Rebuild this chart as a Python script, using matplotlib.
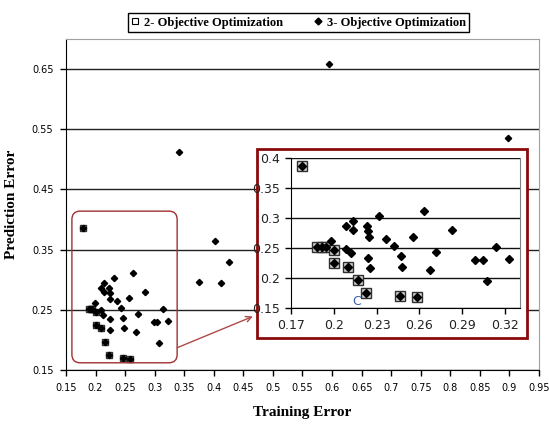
import matplotlib.pyplot as plt
from matplotlib.lines import Line2D
from matplotlib.patches import Rectangle, FancyBboxPatch

# 2-objective optimization (training error, prediction error)
x2 = [0.178, 0.1885, 0.1915, 0.1945, 0.2003, 0.2003, 0.2097, 0.2167, 0.2226, 0.2465, 0.2583]
y2 = [0.386, 0.251, 0.251, 0.251, 0.247, 0.225, 0.219, 0.197, 0.1746, 0.1706, 0.169]

# 3-objective optimization
x3 = [0.1984, 0.2085, 0.2085, 0.2137, 0.2137, 0.212, 0.223, 0.2237, 0.2244, 0.2237,
      0.2251, 0.232, 0.2369, 0.2425, 0.2472, 0.2479, 0.2559, 0.2632, 0.2677, 0.2719,
      0.2829, 0.2989, 0.3043, 0.3071, 0.3134, 0.3231,
      0.341, 0.375, 0.402, 0.412, 0.425, 0.594, 0.898]
y3 = [0.262, 0.286, 0.249, 0.295, 0.280, 0.241, 0.286, 0.278, 0.2676, 0.234,
      0.217, 0.3027, 0.2654, 0.2525, 0.236, 0.219, 0.269, 0.311, 0.2136, 0.243,
      0.280, 0.2303, 0.2303, 0.195, 0.251, 0.232,
      0.513, 0.297, 0.364, 0.294, 0.33, 0.658, 0.536]

main_xticks = [0.15, 0.2, 0.25, 0.3, 0.35, 0.4, 0.45, 0.5, 0.55, 0.6, 0.65, 0.7,
               0.75, 0.8, 0.85, 0.9, 0.95]
main_yticks = [0.15, 0.25, 0.35, 0.45, 0.55, 0.65]
inset_xticks = [0.17, 0.2, 0.23, 0.26, 0.29, 0.32]
inset_yticks = [0.15, 0.2, 0.25, 0.3, 0.35, 0.4]

serif = 'Liberation Serif'
dark_red = '#8b0a0a'


def draw_points(ax, ms_sq, ms_di):
    ax.plot(x2, y2, 's', ms=ms_sq, mfc='#d0d0d0', mec='#303030', mew=1, zorder=3)
    ax.plot(x3 + x2, y3 + y2, 'D', ms=ms_di, color='black', mec='black', zorder=4)


fig = plt.figure(figsize=(5.49, 4.25), dpi=100)

# main axes
ax = fig.add_axes([0.1202, 0.1294, 0.8616, 0.7788])
draw_points(ax, 5, 3.2)
ax.set_xlim(0.15, 0.95)
ax.set_ylim(0.15, 0.70)
ax.set_xticks(main_xticks)
ax.set_xticklabels(['%g' % v for v in main_xticks])
ax.set_yticks(main_yticks)
ax.set_yticklabels(['%g' % v for v in main_yticks])
ax.grid(True, axis='y', color='#222222', lw=1)
ax.set_axisbelow(True)
ax.tick_params(direction='out', length=4, width=1, labelsize=7, pad=5)
for lab in ax.get_xticklabels() + ax.get_yticklabels():
    lab.set_fontfamily('DejaVu Sans')
for s in ['top', 'right']:
    ax.spines[s].set_color('#a0a0a0')
ax.set_xlabel('Training Error', fontfamily=serif, fontweight='bold', fontsize=11, labelpad=10)
ax.set_ylabel('Prediction Error', fontfamily=serif, fontweight='bold', fontsize=11, labelpad=10)

# rounded highlight box and arrow
box = FancyBboxPatch((0.160, 0.162), 0.178, 0.252,
                     boxstyle='round,pad=0,rounding_size=0.014',
                     fill=False, ec='#a03030', lw=1, zorder=5)
ax.add_patch(box)
ax.annotate('', xy=(0.466, 0.239), xytext=(0.338, 0.187),
            arrowprops=dict(arrowstyle='->', color='#b04848', lw=1, shrinkA=0, shrinkB=0),
            zorder=5)

# inset frame
frame = Rectangle((257 / 549, 1 - 338 / 425), 270 / 549, 189 / 425,
                  transform=fig.transFigure, fc='white', ec=dark_red, lw=2, zorder=1)
fig.add_artist(frame)

# inset axes
axi = fig.add_axes([0.530, 0.2753, 0.417, 0.353])
axi.set_zorder(2)
draw_points(axi, 6.5, 4.2)
axi.set_xlim(0.17, 0.3305)
axi.set_ylim(0.15, 0.4)
axi.set_xticks(inset_xticks)
axi.set_xticklabels(['%g' % v for v in inset_xticks])
axi.set_yticks(inset_yticks)
axi.set_yticklabels(['%g' % v for v in inset_yticks])
axi.grid(True, axis='y', color='#111111', lw=1)
axi.set_axisbelow(True)
axi.tick_params(direction='out', length=4, width=1, labelsize=9, pad=4, colors='black')
for lab in axi.get_xticklabels() + axi.get_yticklabels():
    lab.set_fontfamily('DejaVu Sans')
    lab.set_color('#222222')
axi.spines['top'].set_visible(False)
axi.spines['right'].set_color('#808080')
axi.text(0.2158, 0.160, 'C', color='#3a5fa8', fontsize=9, ha='center', va='center',
         fontfamily='DejaVu Sans')

# legend
handles = [Line2D([], [], ls='none', marker='s', ms=5, mfc='white', mec='black', mew=0.8),
           Line2D([], [], ls='none', marker='D', ms=3.5, color='black')]
fig.legend(handles, ['2- Objective Optimization', '3- Objective Optimization'],
           loc='center', bbox_to_anchor=(0.5437, 0.947), ncol=2, frameon=True,
           fancybox=False, edgecolor='black', framealpha=1, handlelength=0.6,
           handletextpad=0.4, columnspacing=2.5, borderpad=0.25,
           prop={'family': serif, 'weight': 'bold', 'size': 9})

fig.savefig('out.png', dpi=100)
